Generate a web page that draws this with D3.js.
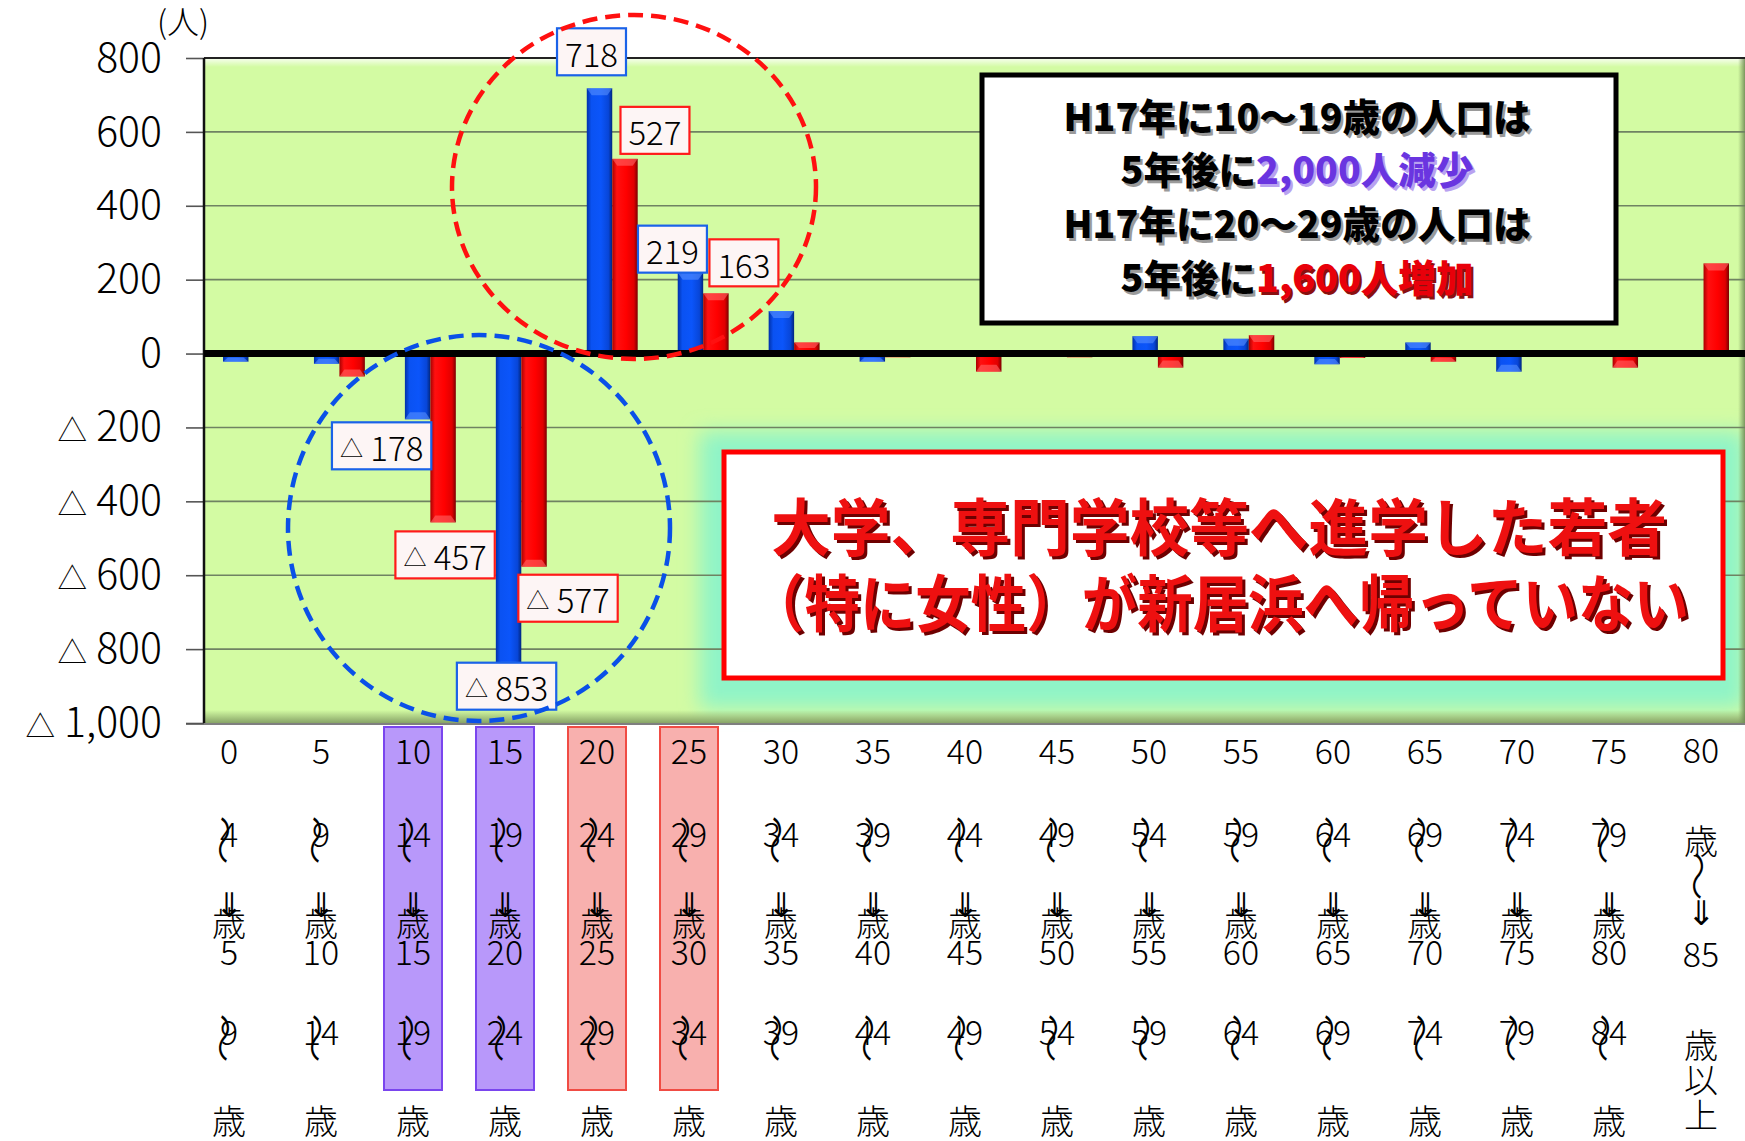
<!DOCTYPE html>
<html>
<head>
<meta charset="utf-8">
<script src="https://cdn.jsdelivr.net/npm/d3@7"></script>
<style>
html, body { margin: 0; padding: 0; background: #fff; }
svg { display: block; font-family: "Noto Sans CJK JP", "Noto Sans", sans-serif; }
</style>
</head>
<body>
<div id="chart"></div>
<script>
// 年齢区分 (H17 -> H22)
var categories = ["0～4歳⇒5～9歳", "5～9歳⇒10～14歳", "10～14歳⇒15～19歳", "15～19歳⇒20～24歳",
  "20～24歳⇒25～29歳", "25～29歳⇒30～34歳", "30～34歳⇒35～39歳", "35～39歳⇒40～44歳",
  "40～44歳⇒45～49歳", "45～49歳⇒50～54歳", "50～54歳⇒55～59歳", "55～59歳⇒60～64歳",
  "60～64歳⇒65～69歳", "65～69歳⇒70～74歳", "70～74歳⇒75～79歳", "75～79歳⇒80～84歳",
  "80歳～⇒85歳以上"];

// 男性 (青) / 女性 (赤)  人数の増減
var maleValues   = [-22, -28, -178, -853, 718, 219, 115, -22, 5, -2, 47, 40, -29, 30, -49, 0, -5];
var femaleValues = [-2, -62, -457, -577, 527, 163, 30, -10, -49, -10, -38, 50, -12, -22, 0, -38, 244];

var yTicks = [800, 600, 400, 200, 0, -200, -400, -600, -800, -1000];

// 強調する区分
var purpleCats = ["10～14歳⇒15～19歳", "15～19歳⇒20～24歳"];
var pinkCats = ["20～24歳⇒25～29歳", "25～29歳⇒30～34歳"];

var note1 = [
  [{t: "H17年に10～19歳の人口は"}],
  [{t: "5年後に"}, {t: "2,000人減少", c: "#6a35e0", s: "#b9a2f0"}],
  [{t: "H17年に20～29歳の人口は"}],
  [{t: "5年後に"}, {t: "1,600人増加", c: "#e8000a", s: "#8a1010"}]
];
var note2 = ["大学、専門学校等へ進学した若者", "（特に女性）が新居浜へ帰っていない"];

//////////////////////////////////////////
var W = 1745, H = 1141;
var pL = 204, pT = 58, pR = 1745, pB = 723;

var svg = d3.select("#chart").append("svg")
  .attr("width", W).attr("height", H);

var defs = svg.append("defs");

function grad(id, vertical, stops) {
  var g = defs.append("linearGradient").attr("id", id)
    .attr("x1", "0%").attr("x2", vertical ? "0%" : "100%")
    .attr("y1", "0%").attr("y2", vertical ? "100%" : "0%");
  stops.forEach(function(s) {
    g.append("stop").attr("offset", s[0]).attr("stop-color", s[1])
      .attr("stop-opacity", s[2] == null ? 1 : s[2]);
  });
}
grad("gBlue", false, [["0%", "#0030a8"], ["18%", "#0a52f2"], ["55%", "#0b55fa"], ["85%", "#0846d8"], ["100%", "#00267e"]]);
grad("gRed", false, [["0%", "#a80000"], ["18%", "#ff1010"], ["55%", "#ff0000"], ["85%", "#e00000"], ["100%", "#7a0000"]]);
grad("gTop", true, [["0%", "#ffffff", 0.85], ["100%", "#ffffff", 0]]);
grad("gBot", true, [["0%", "#7f9a60", 0], ["100%", "#7f9a60", 0.9]]);
grad("gRight", false, [["0%", "#7f9a60", 0], ["100%", "#6f8a55", 0.9]]);

var blur = defs.append("filter").attr("id", "glow")
  .attr("x", "-10%").attr("y", "-20%").attr("width", "120%").attr("height", "140%");
blur.append("feGaussianBlur").attr("stdDeviation", 10);

// scales
var x = d3.scaleBand().domain(categories).range([203, 1749])
  .paddingInner(0.44).paddingOuter(0.22);
var xs = d3.scaleBand().domain(["male", "female"]).range([0, x.bandwidth()]);
var y = d3.scaleLinear().domain([-1000, 800]).range([pB, pT]);
var labelX = d3.scalePoint().domain(categories).range([229, 1701]);

var fmt = d3.format(",");

// plot area
svg.append("rect").attr("x", pL).attr("y", pT)
  .attr("width", pR - pL).attr("height", pB - pT).attr("fill", "#d3fba3");

// glow behind the red note
svg.append("rect").attr("x", 700).attr("y", 432).attr("width", 1045).attr("height", 276)
  .attr("fill", "#8ff4c8").attr("filter", "url(#glow)");

svg.append("rect").attr("x", pL).attr("y", pT).attr("width", pR - pL).attr("height", 9)
  .attr("fill", "url(#gTop)");
svg.append("rect").attr("x", pL).attr("y", pB - 13).attr("width", pR - pL).attr("height", 13)
  .attr("fill", "url(#gBot)");
svg.append("rect").attr("x", pR - 7).attr("y", pT).attr("width", 7).attr("height", pB - pT)
  .attr("fill", "url(#gRight)");

// gridlines
svg.append("g").selectAll("line")
  .data(yTicks.filter(function(d) { return d !== 0 && d !== 800 && d !== -1000; }))
  .enter().append("line")
  .attr("x1", pL).attr("x2", pR)
  .attr("y1", function(d) { return y(d); }).attr("y2", function(d) { return y(d); })
  .attr("stroke", "#6f8262").attr("stroke-width", 1.6);

// y axis
var yAxis = d3.axisLeft(y).tickValues(yTicks).tickSize(18).tickPadding(24)
  .tickFormat(function(d) { return d < 0 ? "" : fmt(d); });
var ya = svg.append("g").attr("transform", "translate(" + pL + ",0)").call(yAxis);
ya.select(".domain").remove();
ya.selectAll(".tick line").attr("stroke", "#555").attr("stroke-width", 1.6);
ya.selectAll(".tick text")
  .attr("font-size", 41).attr("font-weight", 300).attr("fill", "#000")
  .attr("font-family", "'Noto Sans CJK JP', sans-serif")
  .each(function(d) {
    if (d < 0) {
      var t = d3.select(this);
      t.append("tspan").attr("font-size", "0.72em").text("△");
      t.append("tspan").text(" " + fmt(-d));
    }
  });

// bars
function barGroup(values, key, fill, cap) {
  var g = svg.append("g");
  var bars = g.selectAll("g").data(values).enter().append("g");
  bars.append("rect")
    .attr("x", function(d, i) { return x(categories[i]) + xs(key); })
    .attr("y", function(d) { return y(Math.max(0, d)); })
    .attr("width", xs.bandwidth())
    .attr("height", function(d) { return Math.abs(y(d) - y(0)); })
    .attr("fill", fill);
  bars.append("path")
    .attr("d", function(d, i) {
      if (Math.abs(d) < 3) return null;
      var x0 = x(categories[i]) + xs(key), w = xs.bandwidth(), ye = y(d);
      var k = d > 0 ? 1 : -1;
      var h = Math.min(7, Math.abs(y(d) - y(0)) / 2);
      return "M" + x0 + "," + ye + "L" + (x0 + w) + "," + ye +
        "L" + (x0 + w - 5) + "," + (ye + k * h) + "L" + (x0 + 5) + "," + (ye + k * h) + "Z";
    })
    .attr("fill", cap).attr("opacity", 0.55);
}
barGroup(maleValues, "male", "url(#gBlue)", "#5f95ff");
barGroup(femaleValues, "female", "url(#gRed)", "#ff7070");

// borders
svg.append("line").attr("x1", pL).attr("x2", pR).attr("y1", pT).attr("y2", pT)
  .attr("stroke", "#222").attr("stroke-width", 2);
svg.append("line").attr("x1", pL).attr("x2", pL).attr("y1", pT).attr("y2", pB)
  .attr("stroke", "#111").attr("stroke-width", 2.5);
svg.append("line").attr("x1", 186).attr("x2", pR).attr("y1", pB + 1).attr("y2", pB + 1)
  .attr("stroke", "#555").attr("stroke-width", 1.6);

// zero line
svg.append("line").attr("x1", pL).attr("x2", pR).attr("y1", y(0)).attr("y2", y(0))
  .attr("stroke", "#000").attr("stroke-width", 7);

// (人)
svg.append("text").attr("x", 157).attr("y", 34).attr("font-size", 32).attr("font-weight", 300).text("(人)");

// callouts
var callouts = [
  {s: "male", i: 4, dx: -8, gap: 13},
  {s: "female", i: 4, dx: 30, gap: 5},
  {s: "male", i: 5, dx: -18, gap: 0},
  {s: "female", i: 5, dx: 28, gap: 7},
  {s: "male", i: 2, dx: -36, gap: 3},
  {s: "female", i: 2, dx: 2, gap: 9},
  {s: "female", i: 3, dx: 34, gap: 8},
  {s: "male", i: 3, dx: -2, gap: -6}
];

var cg = svg.append("g");
callouts.forEach(function(c) {
  var v = c.s === "male" ? maleValues[c.i] : femaleValues[c.i];
  var cx = x(categories[c.i]) + xs(c.s) + xs.bandwidth() / 2 + c.dx;
  var g = cg.append("g");
  var t = g.append("text").attr("font-size", 33).attr("font-weight", 300)
    .attr("text-anchor", "middle").attr("dominant-baseline", "central");
  if (v < 0) {
    t.append("tspan").attr("font-size", "0.7em").text("△");
    t.append("tspan").text(" " + fmt(-v));
  } else {
    t.text(fmt(v));
  }
  var tw = t.node().getComputedTextLength();
  var bw = tw + 16, bh = 47;
  var by = v >= 0 ? y(v) - c.gap - bh : y(v) + c.gap;
  g.insert("rect", "text").attr("x", cx - bw / 2).attr("y", by).attr("width", bw).attr("height", bh)
    .attr("fill", "#fdf5f5").attr("stroke", c.s === "male" ? "#1a62e8" : "#ff1a1a").attr("stroke-width", 2.2);
  t.attr("x", cx).attr("y", by + bh / 2 + 1);
});

// ellipses
svg.append("ellipse").attr("cx", 634).attr("cy", 187).attr("rx", 182).attr("ry", 172)
  .attr("fill", "none").attr("stroke", "#ff1010").attr("stroke-width", 4.5).attr("stroke-dasharray", "15 8");
svg.append("ellipse").attr("cx", 479).attr("cy", 528).attr("rx", 191).attr("ry", 193)
  .attr("fill", "none").attr("stroke", "#0a50e8").attr("stroke-width", 4.5).attr("stroke-dasharray", "15 8");

// note 1
svg.append("rect").attr("x", 982).attr("y", 75).attr("width", 634).attr("height", 248)
  .attr("fill", "#fff").attr("stroke", "#000").attr("stroke-width", 5);
var n1y = [131, 184, 238, 292];
var n1w = [467, 353, 467, 353];
note1.forEach(function(line, li) {
  [1, 0].forEach(function(sh) {
    var t = svg.append("text").attr("x", 1297 + sh * 2.5).attr("y", n1y[li] + sh * 2.5)
      .attr("text-anchor", "middle").attr("font-size", 38).attr("font-weight", 900)
      .attr("textLength", n1w[li]).attr("lengthAdjust", "spacingAndGlyphs");
    line.forEach(function(p) {
      t.append("tspan").text(p.t)
        .attr("fill", sh ? (p.s || "#9a9a9a") : (p.c || "#000"));
    });
  });
});

// note 2
svg.append("rect").attr("x", 724).attr("y", 452).attr("width", 999).attr("height", 226)
  .attr("fill", "#fff").attr("stroke", "#ff0000").attr("stroke-width", 5);
var n2y = [551, 627];
var n2w = [896, 940];
note2.forEach(function(s, li) {
  [[3, 3, "#6e0000"], [0, 0, "#ee1010"]].forEach(function(o) {
    svg.append("text").attr("x", 1219 + o[0]).attr("y", n2y[li] + o[1])
      .attr("text-anchor", "middle").attr("font-size", 62).attr("font-weight", 700)
      .attr("textLength", n2w[li]).attr("lengthAdjust", "spacingAndGlyphs")
      .attr("fill", o[2]).text(s);
  });
});

// category highlight boxes
var hl = svg.append("g");
hl.selectAll("rect.p").data(purpleCats).enter().append("rect")
  .attr("x", function(d) { return labelX(d) - 29; }).attr("y", 727)
  .attr("width", 58).attr("height", 363)
  .attr("fill", "#b898fa").attr("stroke", "#7a45ee").attr("stroke-width", 2);
hl.selectAll("rect.r").data(pinkCats).enter().append("rect")
  .attr("x", function(d) { return labelX(d) - 29; }).attr("y", 727)
  .attr("width", 58).attr("height", 363)
  .attr("fill", "#f8b0ae").attr("stroke", "#f04c44").attr("stroke-width", 2);

// vertical category labels
function tokens(label) {
  var parts = label.split("⇒");
  var a = parts[0].match(/^(\d+)～(\d+)歳$/);
  var b = parts[1].match(/^(\d+)～(\d+)歳$/);
  if (a && b) {
    return [
      {t: a[1], y: 749}, {t: "～", y: 840, rot: true, dx: -2}, {t: a[2], y: 832},
      {t: "⇓", y: 902}, {t: "歳", y: 921}, {t: b[1], y: 950},
      {t: "～", y: 1038, rot: true, dx: -2}, {t: b[2], y: 1030}, {t: "歳", y: 1119}
    ];
  }
  var n1 = parts[0].match(/^(\d+)/)[1];
  var n2 = parts[1].match(/^(\d+)/)[1];
  var rest = parts[1].replace(n2, "").split("");
  var out = [{t: n1, y: 748}, {t: "歳", y: 839}, {t: "～", y: 876, rot: true}, {t: "⇓", y: 910}, {t: n2, y: 952}];
  [1043, 1078, 1113].forEach(function(yy, k) { out.push({t: rest[k], y: yy}); });
  return out;
}
var lg = svg.append("g").attr("font-size", 34).attr("font-weight", 300);
categories.forEach(function(cat) {
  var cx = labelX(cat);
  tokens(cat).forEach(function(tk) {
    var tx = cx + (tk.dx || 0);
    var t = lg.append("text").attr("text-anchor", "middle").attr("dominant-baseline", "central")
      .attr("x", tx).attr("y", tk.y).text(tk.t);
    if (tk.rot) {
      t.attr("font-size", 40)
        .attr("transform", "translate(" + tx + "," + tk.y + ") rotate(90) scale(1.25,1) translate(" + (-tx) + "," + (-tk.y) + ")");
    }
  });
});
</script>
</body>
</html>
